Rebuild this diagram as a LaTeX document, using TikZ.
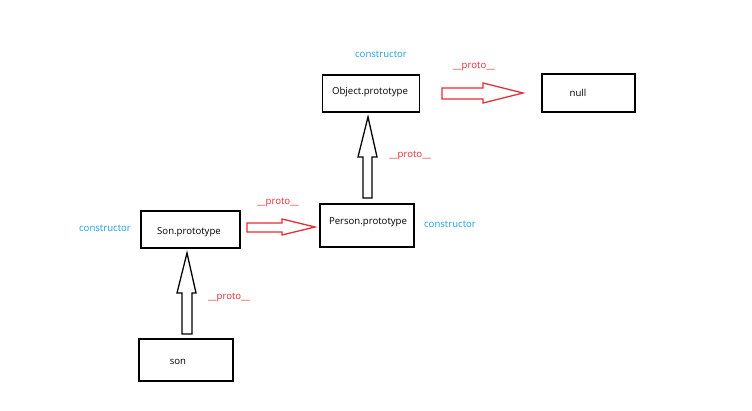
\documentclass[tikz,border=0pt]{standalone}
\usepackage{fontspec}
\setmainfont{Open Sans}
\definecolor{ctorblue}{RGB}{28,160,226}
\definecolor{protored}{RGB}{232,44,52}
\begin{document}
\begin{tikzpicture}[x=1pt,y=-1pt,
  box/.style={draw=black,line width=1.6pt,fill=white,inner sep=0pt},
  txt/.style={font=\fontsize{9.6}{11}\selectfont,inner sep=0pt,text=black},
  ctor/.style={font=\fontsize{9.6}{11}\selectfont,inner sep=0pt,text=ctorblue},
  proto/.style={font=\fontsize{9.6}{11}\selectfont,inner sep=0pt,text=protored},
  redarrow/.style={draw=protored,line width=1.3pt,line join=miter,fill=white},
  blackarrow/.style={draw=black,line width=1.3pt,line join=miter,fill=white}]
\useasboundingbox[fill=white] (0,0) rectangle (752,411);
% boxes
\node[box,minimum width=97pt,minimum height=37pt] (obj) at (371,93.5) {};
\node[box,minimum width=93pt,minimum height=38pt] (null) at (588.5,93) {};
\node[box,minimum width=99pt,minimum height=37pt] (sonp) at (190.5,229.5) {};
\node[box,minimum width=94pt,minimum height=43pt] (pers) at (367,225.5) {};
\node[box,minimum width=94pt,minimum height=42pt] (son) at (186,360) {};
% box texts
\node[txt] (tobj) at (370,92) {Object.prototype};
\node[txt] (tnull) at (578,93) {null};
\node[txt] (tsonp) at (189,232) {Son.prototype};
\node[txt] (tpers) at (368,222) {Person.prototype};
\node[txt] (tson) at (178,362) {son};
% labels
\node[ctor] (c1) at (381,54) {constructor};
\node[ctor] (c2) at (105,228) {constructor};
\node[ctor] (c3) at (450,224) {constructor};
\node[proto] (p1) at (474,66) {\_\_proto\_\_};
\node[proto] (p2) at (410,155) {\_\_proto\_\_};
\node[proto] (p3) at (278,202) {\_\_proto\_\_};
\node[proto] (p4) at (229,297) {\_\_proto\_\_};
% block arrows
\draw[redarrow] (442,88) -- (483,88) -- (483,83) -- (523,93) -- (483,103) -- (483,99) -- (442,99) -- cycle;
\draw[redarrow] (247,223) -- (282,223) -- (282,219) -- (315,227) -- (282,235) -- (282,232) -- (247,232) -- cycle;
\draw[blackarrow] (182,334) -- (182,293) -- (177,293) -- (187,253) -- (196,293) -- (192,293) -- (192,334) -- cycle;
\draw[blackarrow] (363,198) -- (363,157) -- (358,157) -- (368,117) -- (377,157) -- (372,157) -- (372,198) -- cycle;
\end{tikzpicture}
\end{document}
